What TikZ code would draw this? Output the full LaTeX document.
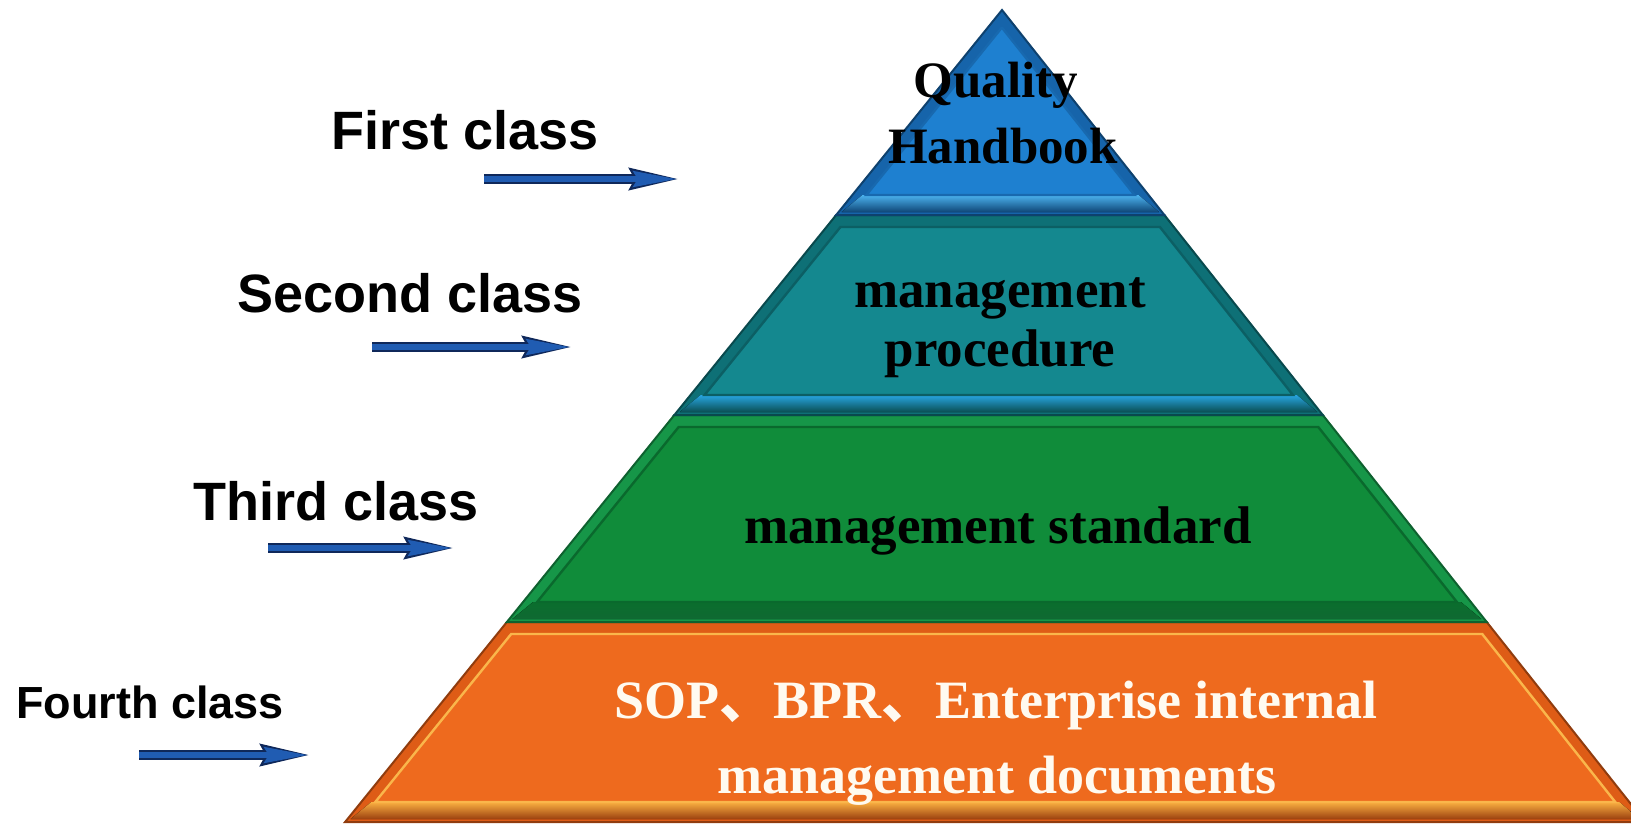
\documentclass[tikz,border=0pt]{standalone}
\usepackage{fontspec}
\setmainfont{Liberation Serif}
\newfontfamily\arialfont{Liberation Sans}
\newfontfamily\cjkfont{Noto Sans CJK SC}
\usetikzlibrary{arrows.meta}
\definecolor{bOut}{RGB}{22,100,170}
\definecolor{bMain}{RGB}{30,128,208}
\definecolor{bLine}{RGB}{24,105,175}
\definecolor{bStrip}{RGB}{75,178,238}
\definecolor{tOut}{RGB}{14,112,118}
\definecolor{tMain}{RGB}{20,136,143}
\definecolor{tLine}{RGB}{12,95,100}
\definecolor{tStrip}{RGB}{40,165,225}
\definecolor{gOut}{RGB}{22,150,72}
\definecolor{gMain}{RGB}{16,140,58}
\definecolor{gLine}{RGB}{10,105,45}
\definecolor{gStrip}{RGB}{10,110,45}
\definecolor{oOut}{RGB}{222,92,22}
\definecolor{oMain}{RGB}{238,106,30}
\definecolor{oLine}{RGB}{250,182,75}
\definecolor{oStrip}{RGB}{250,175,65}
\definecolor{arrBlue}{RGB}{32,92,178}
\definecolor{arrDark}{RGB}{15,40,90}
\definecolor{cream}{RGB}{255,250,240}
\newcommand\XL[1]{1002-0.809*(#1-10)}
\newcommand\XR[1]{1002+0.792*(#1-10)}
% #1 top y, #2 bottom y, #3 outer, #4 main, #5 line, #6 strip, #7 inner top y
\newcommand\pyrband[7]{%
  \filldraw[fill=#3, draw=#3!65!black, line width=1pt]
    ({\XL{#1}},#1) -- ({\XR{#1}},#1) -- ({\XR{#2}},#2) -- ({\XL{#2}},#2) -- cycle;
  \fill[top color=#6, bottom color=#3!70!black]
    ({\XL{#2-20}+10},#2-20) -- ({\XR{#2-20}-10},#2-20) -- ({\XR{#2-3}-3},#2-3) -- ({\XL{#2-3}+3},#2-3) -- cycle;
  \filldraw[fill=#4, draw=#5, line width=1.2pt]
    ({\XL{#7}+14},#7) -- ({\XR{#7}-14},#7) -- ({\XR{#2-20}-14},#2-20) -- ({\XL{#2-20}+14},#2-20) -- cycle;
}
\tikzset{
  pyrtext/.style={anchor=base, inner sep=0pt, font=\bfseries\fontsize{26.5}{30}\selectfont},
  lbltext/.style={anchor=base west, inner sep=0pt, font=\arialfont\bfseries\fontsize{27}{30}\selectfont},
  arrowedge/.style={draw=arrDark, line width=5pt, -{Stealth[length=25pt, width=10pt, inset=2pt]}},
  classarrow/.style={draw=arrBlue, line width=3.4pt, shorten >=1.5pt, -{Stealth[length=22pt, width=7.5pt, inset=2pt]}}
}
\begin{document}
\begin{tikzpicture}[x=0.5pt, y=-0.5pt]
\useasboundingbox (0,0) rectangle (1631,827);
\clip (0,0) rectangle (1631,827);
\fill[white] (0,0) rectangle (1631,827);
% pyramid bands
\pyrband{622}{822}{oOut}{oMain}{oLine}{oStrip}{634}
\pyrband{415}{622}{gOut}{gMain}{gLine}{gStrip}{427}
\pyrband{215}{415}{tOut}{tMain}{tLine}{tStrip}{227}
\pyrband{10}{215}{bOut}{bMain}{bLine}{bStrip}{28}
% pyramid texts
\node[pyrtext, font=\bfseries\fontsize{25.5}{28}\selectfont] (q1) at (996,97) {Quality};
\node[pyrtext, font=\bfseries\fontsize{25.5}{28}\selectfont] (q2) at (1003,163) {Handbook};
\node[pyrtext] (m1) at (1000,307) {management};
\node[pyrtext] (m2) at (1000,366) {procedure};
\node[pyrtext] (s1) at (998,543) {management standard};
\node[pyrtext, text=cream, font=\bfseries\fontsize{27}{30}\selectfont] (o1) at (996,718) {SOP{\cjkfont 、}BPR{\cjkfont 、}Enterprise internal};
\node[pyrtext, text=cream, font=\bfseries\fontsize{27}{30}\selectfont] (o2) at (997,793) {management documents};
% class labels
\node[lbltext] (c1) at (331,149) {First class};
\node[lbltext] (c2) at (237,312) {Second class};
\node[lbltext] (c3) at (193,520) {Third class};
\node[lbltext, font=\arialfont\bfseries\fontsize{22.5}{26}\selectfont] (c4) at (16,718) {Fourth class};
% arrows
\coordinate (a1s) at (484,179); \coordinate (a1e) at (681,179);
\coordinate (a2s) at (372,347); \coordinate (a2e) at (574,347);
\coordinate (a3s) at (268,548); \coordinate (a3e) at (456,548);
\coordinate (a4s) at (139,755); \coordinate (a4e) at (312,755);
\foreach \i in {1,2,3,4}{
  \draw[arrowedge] (a\i s) -- (a\i e);
  \draw[classarrow] (a\i s) -- (a\i e);
}
\end{tikzpicture}
\end{document}
